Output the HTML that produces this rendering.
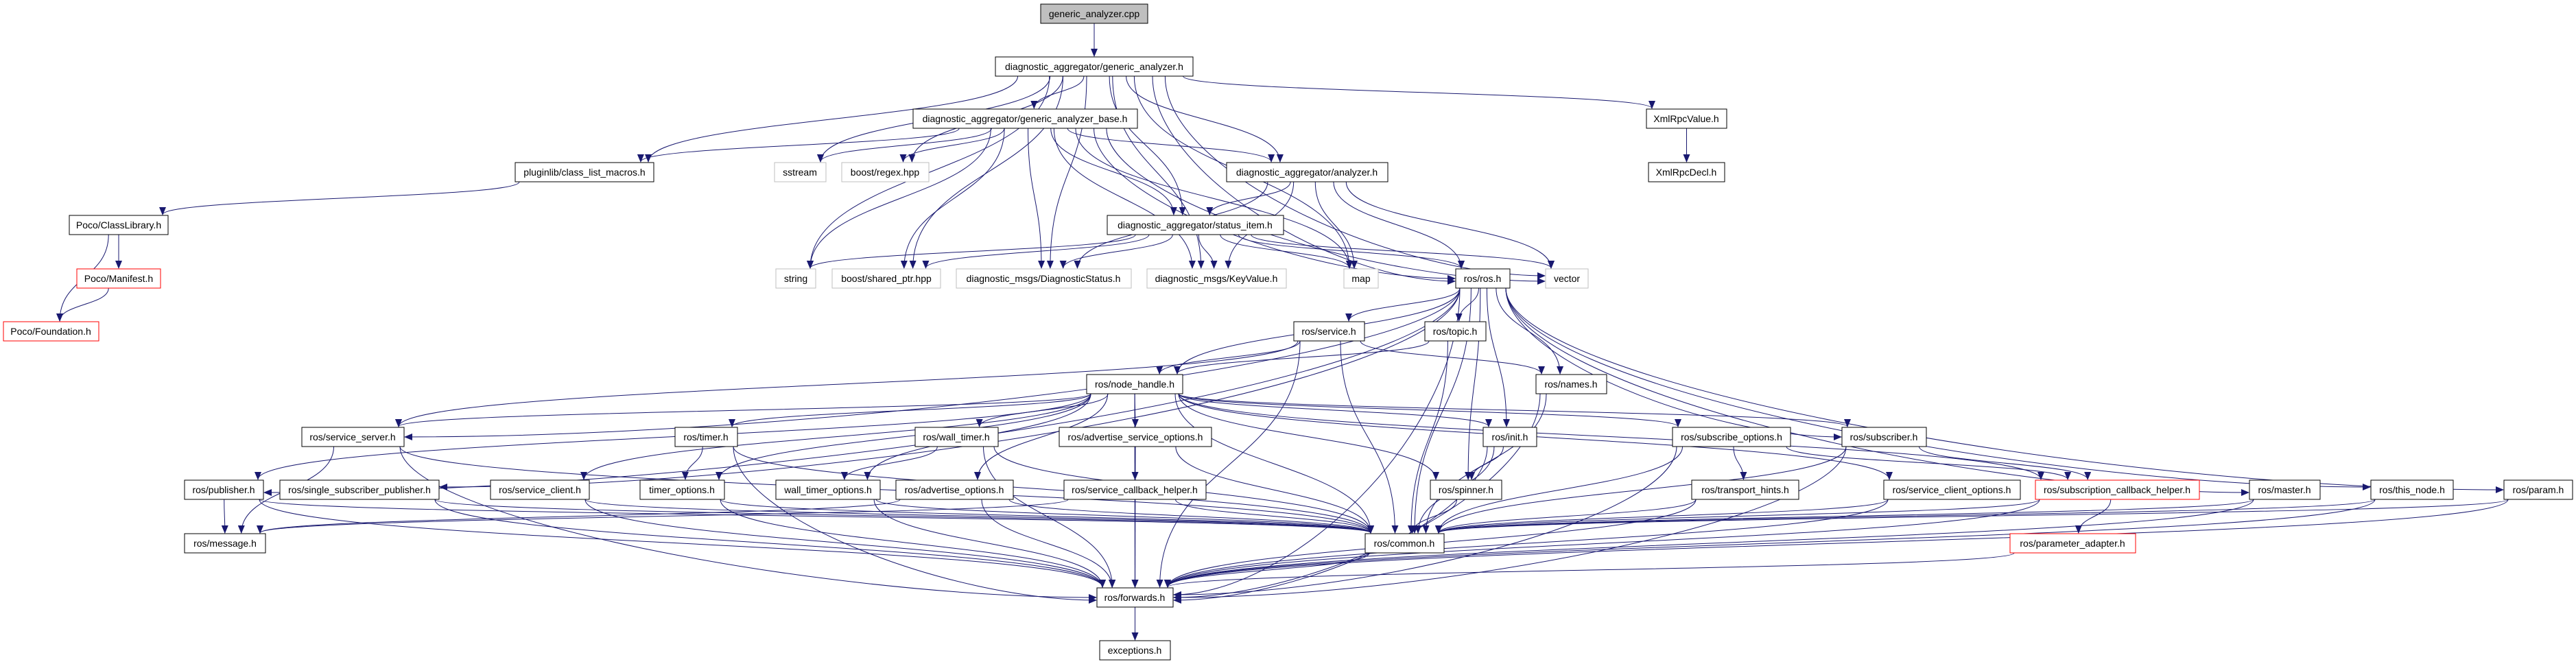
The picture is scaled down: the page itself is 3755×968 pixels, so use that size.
<!DOCTYPE html>
<html><head><meta charset="utf-8">
<style>
html,body{margin:0;padding:0;background:#fff;}
svg{display:block;}
text{font-family:"Liberation Sans","DejaVu Sans",sans-serif;font-size:14px;fill:#000;}
</style></head>
<body>
<svg id="g" width="3755" height="968" viewBox="0 0 3755 968" xmlns="http://www.w3.org/2000/svg">
<defs>
<marker id="ah" markerWidth="12" markerHeight="10" refX="11" refY="5" orient="auto" markerUnits="userSpaceOnUse">
<path d="M0,0 L12,5 L0,10 z" fill="#191970"/>
</marker>
</defs>
<g id="edges" fill="none" stroke="#191970" stroke-width="1"></g>
<g id="nodes">
<rect x="1517" y="6" width="156" height="28" fill="#bfbfbf" stroke="#000"/><text x="1595" y="25" text-anchor="middle">generic_analyzer.cpp</text>
<rect x="1451" y="83" width="288" height="28" fill="#fff" stroke="#000"/><text x="1595" y="102" text-anchor="middle">diagnostic_aggregator/generic_analyzer.h</text>
<rect x="1331" y="159" width="327" height="28" fill="#fff" stroke="#000"/><text x="1494" y="178" text-anchor="middle">diagnostic_aggregator/generic_analyzer_base.h</text>
<rect x="2400" y="159" width="117" height="28" fill="#fff" stroke="#000"/><text x="2458" y="178" text-anchor="middle">XmlRpcValue.h</text>
<rect x="751" y="237" width="202" height="28" fill="#fff" stroke="#000"/><text x="852" y="256" text-anchor="middle">pluginlib/class_list_macros.h</text>
<rect x="1129" y="237" width="75" height="28" fill="#fff" stroke="#bfbfbf"/><text x="1166" y="256" text-anchor="middle">sstream</text>
<rect x="1227" y="237" width="127" height="28" fill="#fff" stroke="#bfbfbf"/><text x="1290" y="256" text-anchor="middle">boost/regex.hpp</text>
<rect x="1788" y="237" width="235" height="28" fill="#fff" stroke="#000"/><text x="1905" y="256" text-anchor="middle">diagnostic_aggregator/analyzer.h</text>
<rect x="2403" y="237" width="111" height="28" fill="#fff" stroke="#000"/><text x="2458" y="256" text-anchor="middle">XmlRpcDecl.h</text>
<rect x="101" y="314" width="144" height="28" fill="#fff" stroke="#000"/><text x="173" y="333" text-anchor="middle">Poco/ClassLibrary.h</text>
<rect x="1614" y="314" width="257" height="28" fill="#fff" stroke="#000"/><text x="1742" y="333" text-anchor="middle">diagnostic_aggregator/status_item.h</text>
<rect x="112" y="392" width="122" height="28" fill="#fff" stroke="#ff0000"/><text x="173" y="411" text-anchor="middle">Poco/Manifest.h</text>
<rect x="1131" y="392" width="58" height="28" fill="#fff" stroke="#bfbfbf"/><text x="1160" y="411" text-anchor="middle">string</text>
<rect x="1213" y="392" width="158" height="28" fill="#fff" stroke="#bfbfbf"/><text x="1292" y="411" text-anchor="middle">boost/shared_ptr.hpp</text>
<rect x="1394" y="392" width="255" height="28" fill="#fff" stroke="#bfbfbf"/><text x="1521" y="411" text-anchor="middle">diagnostic_msgs/DiagnosticStatus.h</text>
<rect x="1672" y="392" width="203" height="28" fill="#fff" stroke="#bfbfbf"/><text x="1773" y="411" text-anchor="middle">diagnostic_msgs/KeyValue.h</text>
<rect x="1959" y="392" width="50" height="28" fill="#fff" stroke="#bfbfbf"/><text x="1984" y="411" text-anchor="middle">map</text>
<rect x="2122" y="392" width="79" height="28" fill="#fff" stroke="#000"/><text x="2161" y="411" text-anchor="middle">ros/ros.h</text>
<rect x="2253" y="392" width="62" height="28" fill="#fff" stroke="#bfbfbf"/><text x="2284" y="411" text-anchor="middle">vector</text>
<rect x="5" y="469" width="139" height="28" fill="#fff" stroke="#ff0000"/><text x="74" y="488" text-anchor="middle">Poco/Foundation.h</text>
<rect x="1886" y="469" width="103" height="28" fill="#fff" stroke="#000"/><text x="1937" y="488" text-anchor="middle">ros/service.h</text>
<rect x="2077" y="469" width="89" height="28" fill="#fff" stroke="#000"/><text x="2121" y="488" text-anchor="middle">ros/topic.h</text>
<rect x="1584" y="546" width="140" height="28" fill="#fff" stroke="#000"/><text x="1654" y="565" text-anchor="middle">ros/node_handle.h</text>
<rect x="2239" y="546" width="103" height="28" fill="#fff" stroke="#000"/><text x="2290" y="565" text-anchor="middle">ros/names.h</text>
<rect x="440" y="623" width="149" height="28" fill="#fff" stroke="#000"/><text x="514" y="642" text-anchor="middle">ros/service_server.h</text>
<rect x="984" y="623" width="91" height="28" fill="#fff" stroke="#000"/><text x="1029" y="642" text-anchor="middle">ros/timer.h</text>
<rect x="1334" y="623" width="121" height="28" fill="#fff" stroke="#000"/><text x="1394" y="642" text-anchor="middle">ros/wall_timer.h</text>
<rect x="1544" y="623" width="222" height="28" fill="#fff" stroke="#000"/><text x="1655" y="642" text-anchor="middle">ros/advertise_service_options.h</text>
<rect x="2162" y="623" width="78" height="28" fill="#fff" stroke="#000"/><text x="2201" y="642" text-anchor="middle">ros/init.h</text>
<rect x="2438" y="623" width="172" height="28" fill="#fff" stroke="#000"/><text x="2524" y="642" text-anchor="middle">ros/subscribe_options.h</text>
<rect x="2685" y="623" width="123" height="28" fill="#fff" stroke="#000"/><text x="2746" y="642" text-anchor="middle">ros/subscriber.h</text>
<rect x="269" y="700" width="115" height="28" fill="#fff" stroke="#000"/><text x="326" y="719" text-anchor="middle">ros/publisher.h</text>
<rect x="408" y="700" width="232" height="28" fill="#fff" stroke="#000"/><text x="524" y="719" text-anchor="middle">ros/single_subscriber_publisher.h</text>
<rect x="715" y="700" width="144" height="28" fill="#fff" stroke="#000"/><text x="787" y="719" text-anchor="middle">ros/service_client.h</text>
<rect x="933" y="700" width="123" height="28" fill="#fff" stroke="#000"/><text x="994" y="719" text-anchor="middle">timer_options.h</text>
<rect x="1131" y="700" width="152" height="28" fill="#fff" stroke="#000"/><text x="1207" y="719" text-anchor="middle">wall_timer_options.h</text>
<rect x="1306" y="700" width="171" height="28" fill="#fff" stroke="#000"/><text x="1391" y="719" text-anchor="middle">ros/advertise_options.h</text>
<rect x="1551" y="700" width="207" height="28" fill="#fff" stroke="#000"/><text x="1654" y="719" text-anchor="middle">ros/service_callback_helper.h</text>
<rect x="2085" y="700" width="104" height="28" fill="#fff" stroke="#000"/><text x="2137" y="719" text-anchor="middle">ros/spinner.h</text>
<rect x="2466" y="700" width="156" height="28" fill="#fff" stroke="#000"/><text x="2544" y="719" text-anchor="middle">ros/transport_hints.h</text>
<rect x="2746" y="700" width="199" height="28" fill="#fff" stroke="#000"/><text x="2845" y="719" text-anchor="middle">ros/service_client_options.h</text>
<rect x="2967" y="700" width="239" height="28" fill="#fff" stroke="#ff0000"/><text x="3086" y="719" text-anchor="middle">ros/subscription_callback_helper.h</text>
<rect x="3279" y="700" width="103" height="28" fill="#fff" stroke="#000"/><text x="3330" y="719" text-anchor="middle">ros/master.h</text>
<rect x="3456" y="700" width="120" height="28" fill="#fff" stroke="#000"/><text x="3516" y="719" text-anchor="middle">ros/this_node.h</text>
<rect x="3650" y="700" width="100" height="28" fill="#fff" stroke="#000"/><text x="3700" y="719" text-anchor="middle">ros/param.h</text>
<rect x="269" y="778" width="118" height="28" fill="#fff" stroke="#000"/><text x="328" y="797" text-anchor="middle">ros/message.h</text>
<rect x="1990" y="778" width="115" height="28" fill="#fff" stroke="#000"/><text x="2047" y="797" text-anchor="middle">ros/common.h</text>
<rect x="2930" y="778" width="183" height="28" fill="#fff" stroke="#ff0000"/><text x="3021" y="797" text-anchor="middle">ros/parameter_adapter.h</text>
<rect x="1599" y="857" width="111" height="28" fill="#fff" stroke="#000"/><text x="1654" y="876" text-anchor="middle">ros/forwards.h</text>
<rect x="1603" y="934" width="103" height="28" fill="#fff" stroke="#000"/><text x="1654" y="953" text-anchor="middle">exceptions.h</text>
</g>
</svg>
<script>
(function(){
var N={};
var rects=document.querySelectorAll('#nodes rect');
var texts=document.querySelectorAll('#nodes text');
for(var i=0;i<rects.length;i++){
 var r=rects[i];N[texts[i].textContent]={x:+r.getAttribute('x'),y:+r.getAttribute('y'),w:+r.getAttribute('width'),h:+r.getAttribute('height')};
}
var E={
"generic_analyzer.cpp":["diagnostic_aggregator/generic_analyzer.h"],
"diagnostic_aggregator/generic_analyzer.h":["diagnostic_aggregator/generic_analyzer_base.h","pluginlib/class_list_macros.h","sstream","boost/regex.hpp","diagnostic_aggregator/analyzer.h","diagnostic_aggregator/status_item.h","string","boost/shared_ptr.hpp","diagnostic_msgs/DiagnosticStatus.h","diagnostic_msgs/KeyValue.h","map","ros/ros.h","vector","XmlRpcValue.h"],
"diagnostic_aggregator/generic_analyzer_base.h":["pluginlib/class_list_macros.h","sstream","boost/regex.hpp","diagnostic_aggregator/analyzer.h","diagnostic_aggregator/status_item.h","string","boost/shared_ptr.hpp","diagnostic_msgs/DiagnosticStatus.h","diagnostic_msgs/KeyValue.h","map","ros/ros.h","vector"],
"XmlRpcValue.h":["XmlRpcDecl.h"],
"pluginlib/class_list_macros.h":["Poco/ClassLibrary.h"],
"Poco/ClassLibrary.h":["Poco/Manifest.h","Poco/Foundation.h"],
"Poco/Manifest.h":["Poco/Foundation.h"],
"diagnostic_aggregator/analyzer.h":["diagnostic_aggregator/status_item.h","diagnostic_msgs/DiagnosticStatus.h","diagnostic_msgs/KeyValue.h","map","ros/ros.h","vector"],
"diagnostic_aggregator/status_item.h":["string","boost/shared_ptr.hpp","diagnostic_msgs/DiagnosticStatus.h","diagnostic_msgs/KeyValue.h","map","ros/ros.h","vector"],
"ros/ros.h":["ros/service.h","ros/topic.h","ros/names.h","ros/node_handle.h","ros/init.h","ros/common.h","ros/forwards.h","ros/subscriber.h","ros/publisher.h","ros/single_subscriber_publisher.h","ros/service_server.h","ros/master.h","ros/this_node.h","ros/param.h","ros/spinner.h"],
"ros/service.h":["ros/node_handle.h","ros/names.h","ros/common.h","ros/forwards.h","ros/service_server.h"],
"ros/topic.h":["ros/node_handle.h","ros/common.h"],
"ros/names.h":["ros/common.h","ros/forwards.h"],
"ros/node_handle.h":["ros/service_server.h","ros/publisher.h","ros/timer.h","ros/wall_timer.h","ros/advertise_service_options.h","ros/init.h","ros/subscribe_options.h","ros/subscriber.h","ros/service_client.h","timer_options.h","wall_timer_options.h","ros/advertise_options.h","ros/spinner.h","ros/service_client_options.h","ros/subscription_callback_helper.h","ros/common.h","ros/forwards.h"],
"ros/service_server.h":["ros/common.h","ros/forwards.h","ros/message.h"],
"ros/timer.h":["timer_options.h","ros/common.h","ros/forwards.h"],
"ros/wall_timer.h":["wall_timer_options.h","ros/common.h","ros/forwards.h"],
"ros/advertise_service_options.h":["ros/service_callback_helper.h","ros/common.h","ros/forwards.h"],
"ros/init.h":["ros/spinner.h","ros/common.h","ros/forwards.h"],
"ros/subscribe_options.h":["ros/transport_hints.h","ros/subscription_callback_helper.h","ros/common.h","ros/forwards.h"],
"ros/subscriber.h":["ros/common.h","ros/forwards.h","ros/subscription_callback_helper.h"],
"ros/publisher.h":["ros/message.h","ros/common.h","ros/forwards.h"],
"ros/single_subscriber_publisher.h":["ros/common.h","ros/forwards.h"],
"ros/service_client.h":["ros/common.h","ros/forwards.h"],
"timer_options.h":["ros/common.h","ros/forwards.h"],
"wall_timer_options.h":["ros/common.h","ros/forwards.h"],
"ros/advertise_options.h":["ros/common.h","ros/forwards.h","ros/message.h"],
"ros/service_callback_helper.h":["ros/common.h","ros/forwards.h","ros/message.h"],
"ros/spinner.h":["ros/common.h"],
"ros/transport_hints.h":["ros/common.h","ros/forwards.h"],
"ros/service_client_options.h":["ros/common.h","ros/forwards.h"],
"ros/subscription_callback_helper.h":["ros/parameter_adapter.h","ros/common.h","ros/forwards.h"],
"ros/master.h":["ros/common.h","ros/forwards.h"],
"ros/this_node.h":["ros/common.h","ros/forwards.h"],
"ros/param.h":["ros/common.h","ros/forwards.h"],
"ros/parameter_adapter.h":["ros/forwards.h"],
"ros/common.h":["ros/forwards.h"],
"ros/forwards.h":["exceptions.h"]
};
var g=document.getElementById('edges');var out='';
for(var s in E){var a=N[s];if(!a)continue;
 var n=E[s].length;
 E[s].forEach(function(t,k){var b=N[t];if(!b)return;
  var tcx=b.x+b.w/2;
  var sx=a.x+a.w/2+Math.max(-a.w/2+6,Math.min(a.w/2-6,(tcx-(a.x+a.w/2))*0.15)),sy=a.y+a.h;
  var tx,ty,d;
  var dy=b.y-sy;
  if(Math.abs(sx-tcx)>450 && dy>150){
   ty=b.y+b.h/2+((k%3)-1)*4;
   if(sx<tcx){tx=b.x-1;}else{tx=b.x+b.w+1;}
   var dir=sx<tcx?-1:1;
   d='M'+sx+','+sy+' C'+sx+','+(sy+dy*0.5)+' '+(tx+dir*Math.abs(tx-sx)*0.4)+','+ty+' '+tx+','+ty;
  } else {
   tx=Math.max(b.x+8,Math.min(b.x+b.w-8,tcx+(sx-tcx)*0.15));ty=b.y-1;
   d='M'+sx+','+sy+' C'+sx+','+(sy+dy*0.5)+' '+tx+','+(ty-dy*0.5)+' '+tx+','+ty;
  }
  out+='<path d="'+d+'" marker-end="url(#ah)"/>';
 });
}
g.innerHTML=out;
})();
</script>
</body></html>
